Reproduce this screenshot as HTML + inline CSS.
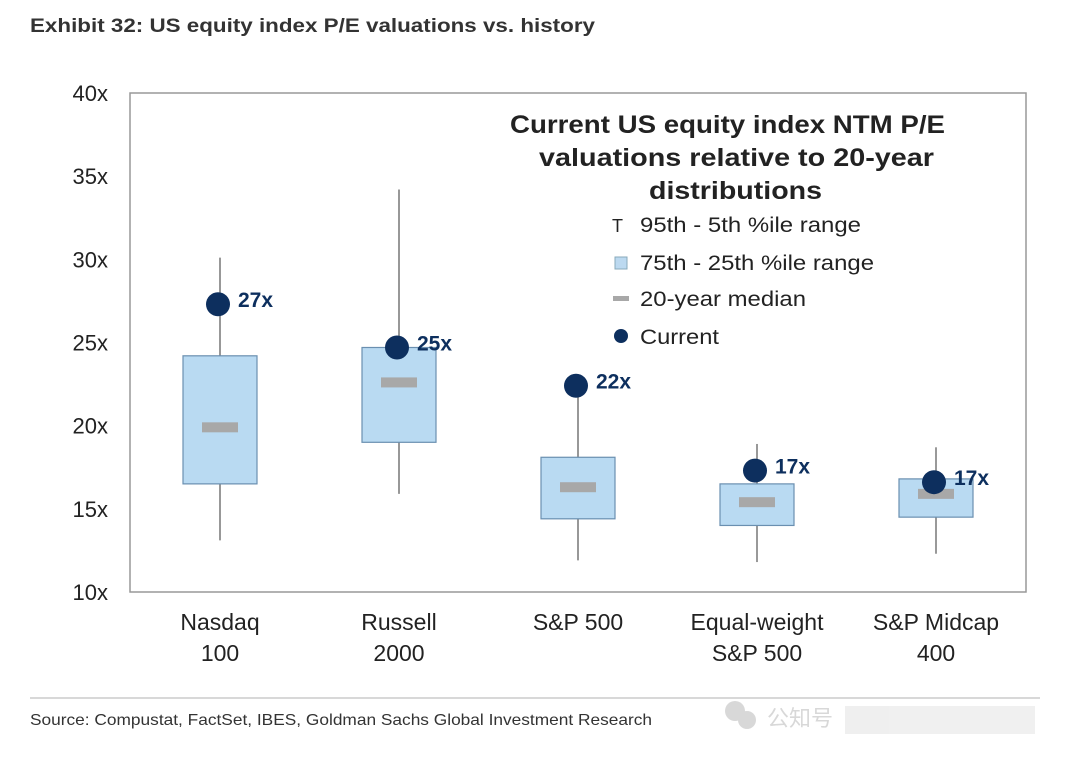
<!DOCTYPE html>
<html><head><meta charset="utf-8"><style>
body{margin:0;background:#fff;width:1080px;height:761px;overflow:hidden;font-family:"Liberation Sans",sans-serif}
</style></head><body>
<svg width="1080" height="761" xmlns="http://www.w3.org/2000/svg">
<text x="30" y="32" font-size="19" font-weight="bold" fill="#333" textLength="565" lengthAdjust="spacingAndGlyphs">Exhibit 32: US equity index P/E valuations vs. history</text>
<rect x="130" y="93" width="896" height="499" fill="none" stroke="#999" stroke-width="1.5"/>
<g id="yaxis"></g>
<g id="xaxis"></g>
<g id="marks"></g>
<g font-size="25" font-weight="bold" fill="#222">
<text x="510" y="133" textLength="435" lengthAdjust="spacingAndGlyphs">Current US equity index NTM P/E</text>
<text x="539" y="166" textLength="395" lengthAdjust="spacingAndGlyphs">valuations relative to 20-year</text>
<text x="649" y="199" textLength="173" lengthAdjust="spacingAndGlyphs">distributions</text></g>
<g font-size="21" fill="#222">
<text x="612" y="232" font-size="18">T</text><text x="640" y="232" textLength="221" lengthAdjust="spacingAndGlyphs">95th - 5th %ile range</text>
<rect x="615" y="257" width="12" height="12" fill="#bcd9f0" stroke="#8ab"/><text x="640" y="270" textLength="234" lengthAdjust="spacingAndGlyphs">75th - 25th %ile range</text>
<rect x="613" y="296" width="16" height="5" fill="#a8a8a8"/><text x="640" y="306" textLength="166" lengthAdjust="spacingAndGlyphs">20-year median</text>
<circle cx="621" cy="336" r="7" fill="#0d2f5e"/><text x="640" y="344" textLength="79" lengthAdjust="spacingAndGlyphs">Current</text></g>
<line x1="30" y1="698" x2="1040" y2="698" stroke="#ccc" stroke-width="1.5"/>
<text x="30" y="725" font-size="16" fill="#333" textLength="622" lengthAdjust="spacingAndGlyphs">Source: Compustat, FactSet, IBES, Goldman Sachs Global Investment Research</text>
<g opacity="0.45">
<circle cx="735" cy="711" r="10" fill="#aaa"/><circle cx="747" cy="720" r="9" fill="#aaa"/>
<text x="767" y="726" font-size="22" fill="#aaa" font-family="'Liberation Sans','Noto Sans CJK SC',sans-serif">公知号</text>
<rect x="845" y="706" width="190" height="28" fill="#ddd"/></g>
</svg>
<script>
const categories=[["Nasdaq","100"],["Russell","2000"],["S&P 500",""],["Equal-weight","S&P 500"],["S&P Midcap","400"]];
const p5=[13.1,15.9,11.9,11.8,12.3];
const p95=[30.1,34.2,22.0,18.9,18.7];
const p25=[16.5,19.0,14.4,14.0,14.5];
const p75=[24.2,24.7,18.1,16.5,16.8];
const median=[19.9,22.6,16.3,15.4,15.9];
const current=[27.3,24.7,22.4,17.3,16.6];
const currentLabels=["27x","25x","22x","17x","17x"];
const yTicks=[10,15,20,25,30,35,40];
const NS="http://www.w3.org/2000/svg";
const y=v=>592-(v-10)*(499/30);
const x=i=>220+i*179;
function mk(t,a,p){const e=document.createElementNS(NS,t);for(const k in a)e.setAttribute(k,a[k]);p.appendChild(e);return e;}
const ya=document.getElementById('yaxis'),xa=document.getElementById('xaxis'),m=document.getElementById('marks');
yTicks.forEach(v=>{const t=mk('text',{x:108,y:y(v)+8,'font-size':22,'text-anchor':'end',fill:'#222'},ya);t.textContent=v+'x';

});
categories.forEach((c,i)=>{c.forEach((l,j)=>{if(!l)return;const t=mk('text',{x:x(i),y:630+j*31,'font-size':23,'text-anchor':'middle',fill:'#222'},xa);t.textContent=l;

});
const g=mk('g',{},m);


const w=mk('line',{x1:x(i),x2:x(i),y1:y(p5[i]),y2:y(p95[i]),stroke:'#777','stroke-width':1.5},g);


const b=mk('rect',{x:x(i)-37,width:74,y:y(p75[i]),height:y(p25[i])-y(p75[i]),fill:'#b9daf2',stroke:'#6a8fb0','stroke-width':1.2},g);


const md=mk('rect',{x:x(i)-18,width:36,y:y(median[i])-5,height:10,fill:'#a8a8a8'},g);


const d=mk('circle',{cx:x(i)-2,cy:y(current[i]),r:12,fill:'#0d2f5e'},g);


const t=mk('text',{x:x(i)+18,y:y(current[i])+3,'font-size':21,'font-weight':'bold',fill:'#0d2f5e'},g);t.textContent=currentLabels[i];


});
</script>
</body></html>
